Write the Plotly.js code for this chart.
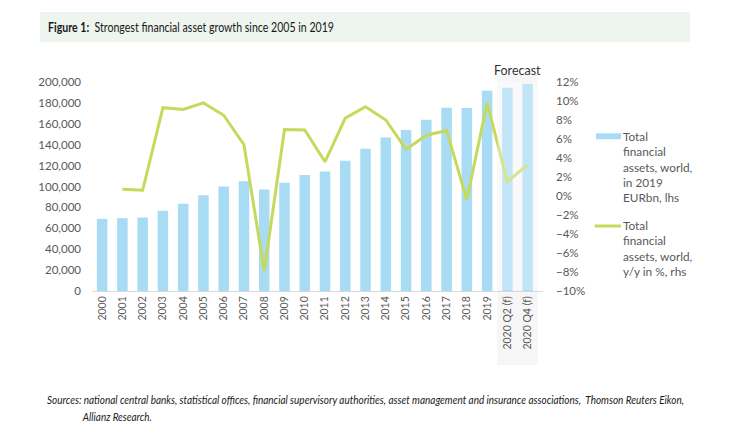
<!DOCTYPE html>
<html>
<head>
<meta charset="utf-8">
<script src="https://cdn.plot.ly/plotly-3.0.1.min.js"></script>
<style>html,body{margin:0;padding:0;background:#fff}#chart{width:740px;height:438px}</style>
</head>
<body>
<div id="chart"></div>
<script>
const categories = ["2000","2001","2002","2003","2004","2005","2006","2007","2008","2009","2010",
  "2011","2012","2013","2014","2015","2016","2017","2018","2019","2020 Q2 (f)","2020 Q4 (f)"];
const assetsEURbn = [69000,69700,70300,76700,83400,91700,100000,105100,97100,103500,110900,
  114300,124600,136100,146900,154000,163900,175400,175100,191700,194600,198400];
const growthPct = [null,0.7,0.6,9.3,9.1,9.8,8.5,5.4,-7.9,7.0,6.95,
  3.6,8.2,9.4,8.0,4.9,6.4,6.9,-0.4,9.8,1.5,3.3];
const forecastCategories = ["2020 Q2 (f)","2020 Q4 (f)"];
const barLegendText = "Total<br>financial<br>assets, world,<br>in 2019<br>EURbn, lhs";
const lineLegendText = "Total<br>financial<br>assets, world,<br>y/y in %, rhs";
const titleText = "<b>Figure 1:</b>  Strongest financial asset growth since 2005 in 2019";
const sourceLine1 = "<i>Sources: national central banks, statistical offices, financial supervisory authorities, asset management and insurance associations,  Thomson Reuters Eikon,</i>";
const sourceLine2 = "<i>Allianz Research.</i>";

const FONT = "Lato, 'Open Sans', sans-serif";
const barColor = "#a8dcf5";
const lineColor = "#c5da5c";
const textGrey = "#595959";

const bars = {
  type: "bar", x: categories, y: assetsEURbn, name: "Total financial assets, world, in 2019 EURbn, lhs",
  marker: {color: barColor}, yaxis: "y", hoverinfo: "skip", showlegend: false
};
const line = {
  type: "scatter", mode: "lines", x: categories, y: growthPct, name: "Total financial assets, world, y/y in %, rhs",
  line: {color: lineColor, width: 3}, yaxis: "y2", connectgaps: false, showlegend: false
};

const fcStart = categories.indexOf(forecastCategories[0]) - 0.5;
const fcEnd = categories.indexOf(forecastCategories[forecastCategories.length - 1]) + 0.5;

const layout = {
  width: 740, height: 438,
  margin: {l: 92, r: 197, t: 82, b: 147},
  paper_bgcolor: "#ffffff", plot_bgcolor: "rgba(0,0,0,0)",
  font: {family: FONT, size: 11.5, color: textGrey},
  bargap: 0.48,
  showlegend: false,
  xaxis: {type: "category", tickangle: -90, showline: true, linecolor: "#d9d9d9", linewidth: 1,
    ticks: "", showgrid: false, tickfont: {size: 10.5, color: textGrey}},
  yaxis: {range: [0, 200000], dtick: 20000, tickformat: ",d", showgrid: false, zeroline: false,
    showline: false, ticks: "", ticklabelstandoff: 10, tickfont: {size: 11.5, color: textGrey}},
  yaxis2: {overlaying: "y", side: "right", range: [-10, 12], dtick: 2, ticksuffix: "%",
    showgrid: false, zeroline: false, showline: false, ticks: "", ticklabelstandoff: 12,
    tickfont: {size: 11.5, color: textGrey}},
  shapes: [
    {type: "rect", xref: "paper", yref: "paper", x0: -0.1153, x1: 1.326, y0: 1.191, y1: 1.335,
      fillcolor: "#eef4ee", line: {width: 0}, layer: "below"},
    {type: "rect", xref: "x", yref: "paper", x0: fcStart, x1: fcEnd, y0: -0.354, y1: 1.035,
      fillcolor: "#f6f6f6", line: {width: 0}, layer: "below"},
    {type: "rect", xref: "x", yref: "paper", x0: fcStart, x1: fcEnd, y0: 0.003, y1: 1.0,
      fillcolor: "rgba(255,255,255,0.3)", line: {width: 0}, layer: "above"},
    {type: "rect", xref: "paper", yref: "paper", x0: 1.1175, x1: 1.173, y0: 0.726, y1: 0.7545,
      fillcolor: barColor, line: {width: 0}},
    {type: "line", xref: "paper", yref: "paper", x0: 1.1146, x1: 1.173, y0: 0.311, y1: 0.311,
      line: {color: lineColor, width: 3}}
  ],
  annotations: [
    {xref: "paper", yref: "paper", x: -0.102, y: 1.263, xanchor: "left", yanchor: "middle",
      showarrow: false, text: titleText, font: {family: FONT, size: 13, color: "#1a1a1a"}},
    {xref: "x", yref: "paper", x: (fcStart + fcEnd) / 2, y: 1.057, xanchor: "center", yanchor: "middle",
      showarrow: false, text: "Forecast", font: {family: FONT, size: 12.5, color: "#333333"}},
    {xref: "paper", yref: "paper", x: -0.104, y: -0.518, xanchor: "left", yanchor: "middle",
      showarrow: false, align: "left", text: sourceLine1,
      font: {family: FONT, size: 11.5, color: "#1a1a1a"}},
    {xref: "paper", yref: "paper", x: -0.027, y: -0.602, xanchor: "left", yanchor: "middle",
      showarrow: false, align: "left", text: sourceLine2,
      font: {family: FONT, size: 11.5, color: "#1a1a1a"}},
    {xref: "paper", yref: "paper", x: 1.172, y: 0.5933, xanchor: "left", yanchor: "middle",
      showarrow: false, align: "left", text: barLegendText, font: {family: FONT, size: 11.8, color: textGrey}},
    {xref: "paper", yref: "paper", x: 1.172, y: 0.201, xanchor: "left", yanchor: "middle",
      showarrow: false, align: "left", text: lineLegendText, font: {family: FONT, size: 11.8, color: textGrey}}
  ]
};

// Target rendered widths (px) for the condensed-looking texts of the original
const condensedWidths = [[0, 286], [2, 638], [3, 70]];

Plotly.newPlot("chart", [bars, line], layout, {displayModeBar: false, staticPlot: true}).then(function (gd) {
  const texts = gd.querySelectorAll(".annotation-text");
  condensedWidths.forEach(function (pair) {
    const el = texts[pair[0]];
    if (!el) return;
    const bb = el.getBBox();
    const s = pair[1] / bb.width;
    const prev = el.getAttribute("transform") || "";
    el.setAttribute("transform", prev + " translate(" + bb.x + ",0) scale(" + s + ",1) translate(" + (-bb.x) + ",0)");
  });
});
</script>
</body>
</html>
